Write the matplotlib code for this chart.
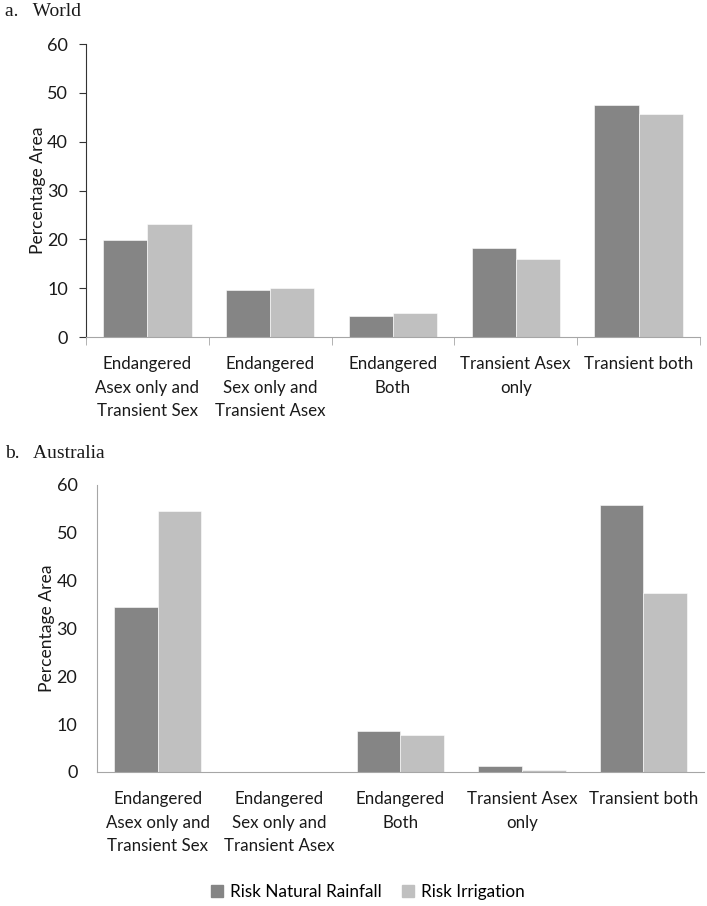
import numpy as np
import matplotlib
matplotlib.use('Agg')
import matplotlib.pyplot as plt
from matplotlib.patches import Patch

# Category labels (shared by both panels)
categories = ['Endangered\nAsex only and\nTransient Sex',
              'Endangered\nSex only and\nTransient Asex',
              'Endangered\nBoth',
              'Transient Asex\nonly',
              'Transient both']

series_names = ['Risk Natural Rainfall', 'Risk Irrigation']

# a. World
world_rainfall = [19.9, 9.6, 4.3, 18.2, 47.6]
world_irrigation = [23.1, 10.0, 4.9, 15.9, 45.7]

# b. Australia
aus_rainfall = [34.4, 0.0, 8.6, 1.2, 55.8]
aus_irrigation = [54.5, 0.0, 7.7, 0.3, 37.4]

yticks = [0, 10, 20, 30, 40, 50, 60]

dark = '#858585'
light = '#c0c0c0'
axis_gray = '#a6a6a6'
text_col = '#1a1a1a'
sans = ['Lato', 'DejaVu Sans']
serif = ['Liberation Serif', 'DejaVu Serif']

fig = plt.figure(figsize=(7.07, 9.06), dpi=100)
ax1 = fig.add_axes([0.1216, 0.628, 0.990 - 0.1216, 0.9514 - 0.628])
ax2 = fig.add_axes([0.137, 0.148, 0.9958 - 0.137, 0.4647 - 0.148])

x = np.arange(len(categories))
w = 0.36


def draw_panel(ax, rain, irr, boxed_ticks):
    ax.bar(x - w / 2, rain, w, color=dark, edgecolor='white', linewidth=0.4)
    ax.bar(x + w / 2, irr, w, color=light, edgecolor='white', linewidth=0.4)
    ax.set_xlim(-0.5, len(categories) - 0.5)
    ax.set_ylim(0, 60)
    ax.set_yticks(yticks)
    ax.set_xticks(x)
    ax.set_xticklabels(categories, fontsize=12.2, family=sans, color=text_col,
                       linespacing=1.55, va='top')
    for lab in ax.get_yticklabels():
        lab.set_family(sans)
    ax.tick_params(axis='y', labelsize=13, colors=text_col)
    ax.tick_params(axis='x', length=0, pad=14)
    for s in ['top', 'right']:
        ax.spines[s].set_visible(False)
    ax.spines['bottom'].set_color(axis_gray)
    ax.set_ylabel('Percentage Area', fontsize=12.6, family=sans, color=text_col,
                  labelpad=1)
    if boxed_ticks:
        ax.spines['left'].set_color('#333333')
        ax.tick_params(axis='y', length=5, color='#333333', pad=8)
        ax.set_xticks(np.arange(-0.5, len(categories)), minor=True)
        ax.tick_params(axis='x', which='minor', length=6, color=axis_gray)
    else:
        ax.spines['left'].set_color(axis_gray)
        ax.tick_params(axis='y', length=0, pad=14)


draw_panel(ax1, world_rainfall, world_irrigation, True)
draw_panel(ax2, aus_rainfall, aus_irrigation, False)

fig.text(0.007, 1 - 12 / 906, 'a.   World', family=serif, fontsize=14,
         va='center', ha='left', color=text_col)
fig.text(0.007, 1 - 453 / 906, 'b.   Australia', family=serif, fontsize=14,
         va='center', ha='left', color=text_col)

handles = [Patch(color=dark), Patch(color=light)]
fig.legend(handles, series_names, loc='center', bbox_to_anchor=(0.52, 1 - 892 / 906),
           ncol=2, frameon=False, prop={'family': sans, 'size': 12.3},
           handlelength=0.7, handleheight=0.7, handletextpad=0.4, columnspacing=1.2)

fig.savefig('out.png', dpi=100)
